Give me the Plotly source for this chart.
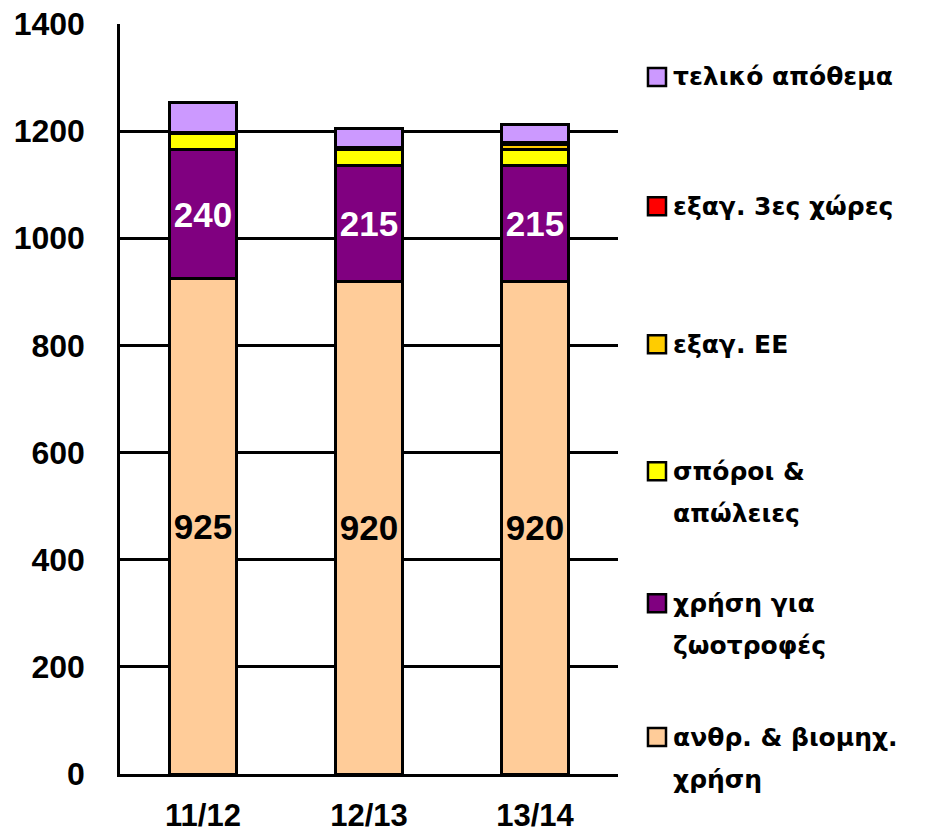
import plotly.graph_objects as go

# Marketing years on the x axis
seasons = ["11/12", "12/13", "13/14"]

# Stacked components (thousand tonnes), bottom to top
human_industrial = [925, 920, 920]
feed_use = [240, 215, 215]
seeds_losses = [30, 30, 30]
exports_eu = [3, 5, 10]
exports_third = [0, 0, 3]
final_stock = [55, 35, 35]

series_names = [
    "ανθρ. & βιομηχ. χρήση",
    "χρήση για ζωοτροφές",
    "σπόροι & απώλειες",
    "εξαγ. ΕΕ",
    "εξαγ. 3ες χώρες",
    "τελικό απόθεμα",
]
series_values = [human_industrial, feed_use, seeds_losses, exports_eu, exports_third, final_stock]
series_colors = ["#FFCC99", "#800080", "#FFFF00", "#FFCC00", "#FF0000", "#CC99FF"]
labelled = {0: "black", 1: "white"}

y_ticks = [0, 200, 400, 600, 800, 1000, 1200, 1400]

fig = go.Figure()
for i, (name, vals, col) in enumerate(zip(series_names, series_values, series_colors)):
    kw = {}
    if i in labelled:
        kw = dict(
            text=[str(v) for v in vals],
            texttemplate="<b>%{text}</b>",
            textposition="inside",
            insidetextanchor="middle",
            textangle=0,
            constraintext="none",
            textfont=dict(family="Liberation Sans, Arial", size=35, color=labelled[i]),
        )
    fig.add_trace(go.Bar(
        x=seasons, y=vals, name=name,
        marker=dict(color=col, line=dict(color="black", width=3)),
        showlegend=False, **kw,
    ))

# Legend drawn on the right, top entry = top of the stack
legend_rows = [
    (5, ["τελικό απόθεμα"], 0.9295),
    (4, ["εξαγ. 3ες χώρες"], 0.7571),
    (3, ["εξαγ. ΕΕ"], 0.5731),
    (2, ["σπόροι &", "απώλειες"], 0.4037),
    (1, ["χρήση για", "ζωοτροφές"], 0.2277),
    (0, ["ανθρ. & βιομηχ.", "χρήση"], 0.0493),
]
plot_h = 750.0
for idx, lines, yc in legend_rows:
    half = 9.0 / plot_h
    fig.add_shape(
        type="rect", xref="paper", yref="paper",
        x0=1.0602, x1=1.0964, y0=yc - half, y1=yc + half,
        fillcolor=series_colors[idx], line=dict(color="black", width=2.5),
        layer="above",
    )
    for k, line in enumerate(lines):
        fig.add_annotation(
            xref="paper", yref="paper", x=1.106, y=yc - k * 42.0 / plot_h,
            xanchor="left", yanchor="middle", showarrow=False,
            text=f"<b>{line}</b>",
            font=dict(family="DejaVu Sans", size=25, color="black"),
        )

fig.update_layout(
    width=942, height=832,
    margin=dict(l=120, r=324, t=24, b=58),
    plot_bgcolor="white", paper_bgcolor="white",
    barmode="stack", bargap=0.595,
    font=dict(family="Liberation Sans, Arial", color="black"),
)
fig.update_yaxes(
    range=[0, 1400], tickvals=y_ticks, ticktext=[f"<b>{t}</b>" for t in y_ticks],
    showgrid=True, gridcolor="black", gridwidth=2.5,
    showline=True, linecolor="black", linewidth=2.5,
    ticks="", ticklabelstandoff=26,
    tickfont=dict(family="Liberation Sans, Arial", size=32, color="black"),
    zeroline=False, automargin=False,
)
fig.update_xaxes(
    tickvals=seasons, ticktext=[f"<b>{s}</b>" for s in seasons],
    showline=True, linecolor="black", linewidth=2.5,
    ticks="", tickfont=dict(family="Liberation Sans, Arial", size=31, color="black"),
    ticklabelstandoff=12, automargin=False,
)

fig.write_html("out.html")
